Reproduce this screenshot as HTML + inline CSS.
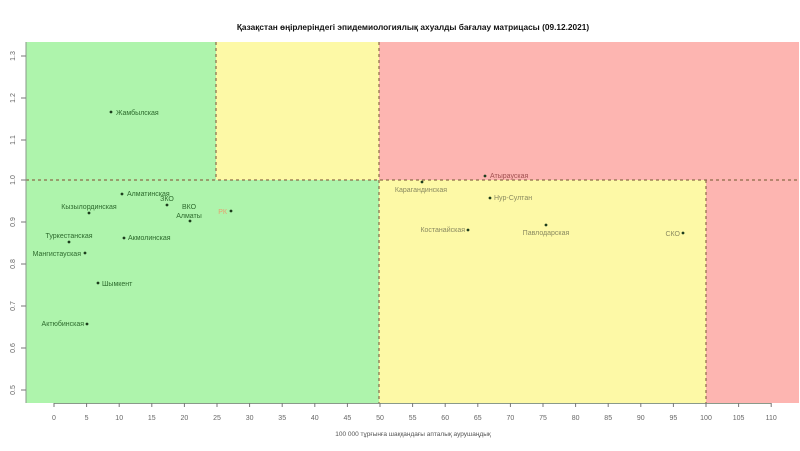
<!DOCTYPE html>
<html><head><meta charset="utf-8"><style>
html,body{margin:0;padding:0;background:#fff;}
svg{display:block;}
text{font-family:"Liberation Sans",sans-serif;}
</style></head><body>
<svg width="800" height="451" viewBox="0 0 800 451" xmlns="http://www.w3.org/2000/svg">
<rect width="800" height="451" fill="#fff"/>
<text x="413" y="30" font-size="8.3" font-weight="bold" text-anchor="middle" fill="#111">Қазақстан өңірлеріндегі эпидемиологиялық ахуалды бағалау матрицасы  (09.12.2021)</text>
<!-- zones -->
<rect x="26" y="42" width="353" height="361" fill="#aef4ac"/>
<rect x="216" y="42" width="163" height="138" fill="#fdf9a6"/>
<rect x="379" y="42" width="420" height="361" fill="#fdb5b1"/>
<rect x="379" y="180" width="327" height="223" fill="#fdf9a6"/>
<!-- dashed lines -->
<g stroke="#8c6a48" stroke-width="1.2" stroke-dasharray="3,3" fill="none">
<line x1="26" y1="180" x2="799" y2="180"/>
<line x1="216" y1="42" x2="216" y2="180"/>
<line x1="379" y1="42" x2="379" y2="403"/>
<line x1="706" y1="180" x2="706" y2="403"/>
</g>
<!-- axes -->
<g stroke="#8a9a8a" stroke-width="1">
<line x1="26" y1="42" x2="26" y2="403"/>
<line x1="54" y1="403.5" x2="771" y2="403.5"/>
</g>
<g stroke="#777" stroke-width="1">
<line x1="21" y1="56" x2="26" y2="56"/>
<line x1="21" y1="98" x2="26" y2="98"/>
<line x1="21" y1="140" x2="26" y2="140"/>
<line x1="21" y1="180" x2="26" y2="180"/>
<line x1="21" y1="222" x2="26" y2="222"/>
<line x1="21" y1="264" x2="26" y2="264"/>
<line x1="21" y1="306" x2="26" y2="306"/>
<line x1="21" y1="348" x2="26" y2="348"/>
<line x1="21" y1="390" x2="26" y2="390"/>
</g>
<g font-size="7" fill="#666" text-anchor="middle">
<text transform="translate(15,56) rotate(-90)">1.3</text>
<text transform="translate(15,98) rotate(-90)">1.2</text>
<text transform="translate(15,140) rotate(-90)">1.1</text>
<text transform="translate(15,180) rotate(-90)">1.0</text>
<text transform="translate(15,222) rotate(-90)">0.9</text>
<text transform="translate(15,264) rotate(-90)">0.8</text>
<text transform="translate(15,306) rotate(-90)">0.7</text>
<text transform="translate(15,348) rotate(-90)">0.6</text>
<text transform="translate(15,390) rotate(-90)">0.5</text>
</g>
<!-- x ticks -->
<g stroke="#777" stroke-width="1">
<line x1="54" y1="403" x2="54" y2="407"/><line x1="86.6" y1="403" x2="86.6" y2="407"/><line x1="119.2" y1="403" x2="119.2" y2="407"/><line x1="151.8" y1="403" x2="151.8" y2="407"/><line x1="184.4" y1="403" x2="184.4" y2="407"/><line x1="217" y1="403" x2="217" y2="407"/><line x1="249.6" y1="403" x2="249.6" y2="407"/><line x1="282.2" y1="403" x2="282.2" y2="407"/><line x1="314.8" y1="403" x2="314.8" y2="407"/><line x1="347.4" y1="403" x2="347.4" y2="407"/><line x1="380" y1="403" x2="380" y2="407"/><line x1="412.6" y1="403" x2="412.6" y2="407"/><line x1="445.2" y1="403" x2="445.2" y2="407"/><line x1="477.8" y1="403" x2="477.8" y2="407"/><line x1="510.4" y1="403" x2="510.4" y2="407"/><line x1="543" y1="403" x2="543" y2="407"/><line x1="575.6" y1="403" x2="575.6" y2="407"/><line x1="608.2" y1="403" x2="608.2" y2="407"/><line x1="640.8" y1="403" x2="640.8" y2="407"/><line x1="673.4" y1="403" x2="673.4" y2="407"/><line x1="706" y1="403" x2="706" y2="407"/><line x1="738.6" y1="403" x2="738.6" y2="407"/><line x1="771.2" y1="403" x2="771.2" y2="407"/>
</g>
<g font-size="7" fill="#666" text-anchor="middle">
<text x="54" y="420">0</text><text x="86.6" y="420">5</text><text x="119.2" y="420">10</text><text x="151.8" y="420">15</text><text x="184.4" y="420">20</text><text x="217" y="420">25</text><text x="249.6" y="420">30</text><text x="282.2" y="420">35</text><text x="314.8" y="420">40</text><text x="347.4" y="420">45</text><text x="380" y="420">50</text><text x="412.6" y="420">55</text><text x="445.2" y="420">60</text><text x="477.8" y="420">65</text><text x="510.4" y="420">70</text><text x="543" y="420">75</text><text x="575.6" y="420">80</text><text x="608.2" y="420">85</text><text x="640.8" y="420">90</text><text x="673.4" y="420">95</text><text x="706" y="420">100</text><text x="738.6" y="420">105</text><text x="771.2" y="420">110</text>
</g>
<text x="413" y="436" font-size="6.5" fill="#555" text-anchor="middle">100 000 тұрғынға шаққандағы апталық аурушаңдық</text>
<!-- points -->
<g fill="#1d3d1d">
<circle cx="111" cy="112" r="1.4"/>
<circle cx="122" cy="194" r="1.4"/>
<circle cx="167" cy="205" r="1.4"/>
<circle cx="89" cy="213" r="1.4"/>
<circle cx="190" cy="221" r="1.4"/>
<circle cx="231" cy="211" r="1.4"/>
<circle cx="69" cy="242" r="1.4"/>
<circle cx="124" cy="238" r="1.4"/>
<circle cx="85" cy="253" r="1.4"/>
<circle cx="98" cy="283" r="1.4"/>
<circle cx="87" cy="324" r="1.4"/>
<circle cx="485" cy="176" r="1.4"/>
<circle cx="422" cy="182" r="1.4"/>
<circle cx="490" cy="198" r="1.4"/>
<circle cx="468" cy="230" r="1.4"/>
<circle cx="546" cy="225" r="1.4"/>
<circle cx="683" cy="233" r="1.4"/>
</g>
<g font-size="7" fill="#2d6a2d">
<text x="116" y="115">Жамбылская</text>
<text x="127" y="196">Алматинская</text>
<text x="167" y="201" text-anchor="middle">ЗКО</text>
<text x="89" y="209" text-anchor="middle">Кызылординская</text>
<text x="189" y="209" text-anchor="middle">ВКО</text>
<text x="189" y="218" text-anchor="middle">Алматы</text>
<text x="69" y="238" text-anchor="middle">Туркестанская</text>
<text x="128" y="240">Акмолинская</text>
<text x="81" y="256" text-anchor="end">Мангистауская</text>
<text x="102" y="286">Шымкент</text>
<text x="84" y="326" text-anchor="end">Актюбинская</text>
</g>
<text x="227" y="214" font-size="7" fill="#e8a070" text-anchor="end">РК</text>
<text x="490" y="178" font-size="7" fill="#a05050">Атырауская</text>
<g font-size="7" fill="#8a8a60">
<text x="421" y="192" text-anchor="middle">Карагандинская</text>
<text x="494" y="200">Нур-Султан</text>
<text x="465" y="232" text-anchor="end">Костанайская</text>
<text x="546" y="235" text-anchor="middle">Павлодарская</text>
<text x="680" y="236" text-anchor="end">СКО</text>
</g>
</svg>
</body></html>
